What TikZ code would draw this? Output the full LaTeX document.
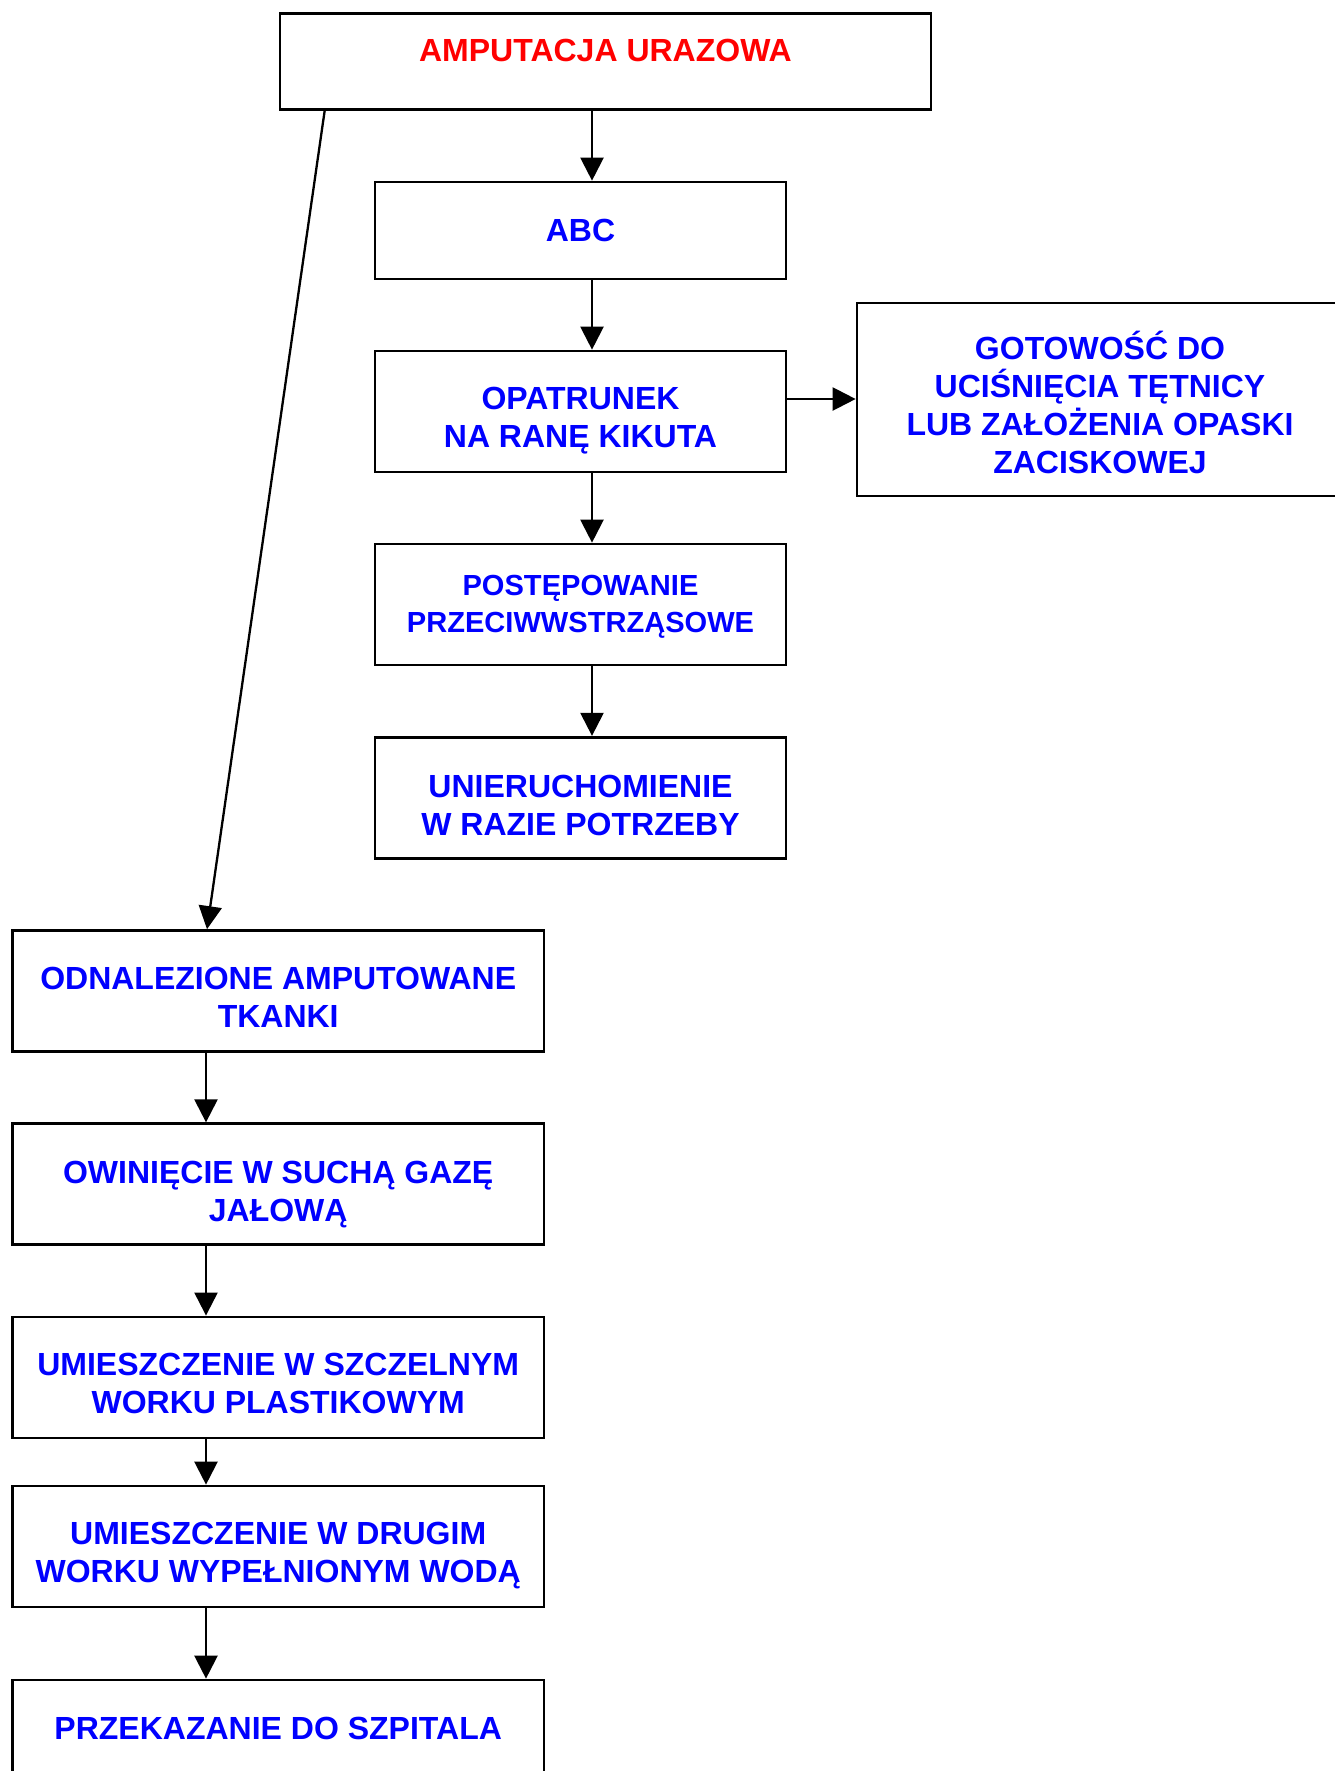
\documentclass[tikz,border=0pt]{standalone}
\usepackage{fontspec}
\setmainfont{Liberation Sans}
\usetikzlibrary{arrows.meta}
\newdimen\pxu \pxu=0.75pt
\definecolor{tblue}{RGB}{0,0,255}
\definecolor{tred}{RGB}{255,0,0}
\begin{document}
\begin{tikzpicture}[x=0.75pt, y=-0.75pt,
  box/.style={draw=black, line width=2.025pt, inner sep=0pt, minimum height=90.75pt},
  mainbox/.style={box, minimum width=308.25pt},
  leftbox/.style={box, minimum width=398.7pt},
  txt/.style={inner sep=0pt, align=center, text=tblue, font=\fontsize{24}{28.5}\selectfont\bfseries},
  smalltxt/.style={txt, font=\fontsize{21.8}{27.5}\selectfont\bfseries},
  arr/.style={line width=1.725pt, -{Triangle[length=17.25pt, width=17.25pt]}}
]
\useasboundingbox (0,0) rectangle (1335,1771);
\clip (0,0) rectangle (1335,1771);

% main column
\node[box, minimum width=488.25pt, minimum height=72pt,
  label={[txt, text=tred, yshift=8pt]center:AMPUTACJA URAZOWA}] (top) at (605.5,61.5) {};
\node[mainbox, minimum height=72.75pt,
  label={[txt]center:ABC}] (abc) at (580.5,230.5) {};
\node[mainbox,
  label={[txt, yshift=-7.1pt]center:{OPATRUNEK\\NA RANĘ KIKUTA}}] (opat) at (580.5,411.5) {};
\node[box, minimum width=364.5pt, minimum height=144.75pt,
  label={[txt, yshift=-2.25pt]center:{GOTOWOŚĆ DO\\UCIŚNIĘCIA TĘTNICY\\LUB ZAŁOŻENIA OPASKI\\ZACISKOWEJ}}] (goto) at (1100,399.5) {};
\node[mainbox,
  label={[smalltxt, yshift=-1.9pt]center:{POSTĘPOWANIE\\PRZECIWWSTRZĄSOWE}}] (post) at (580.5,604.5) {};
\node[mainbox,
  label={[txt, yshift=-5.5pt]center:{UNIERUCHOMIENIE\\W RAZIE POTRZEBY}}] (unie) at (580.5,797.7) {};

% left column
\node[leftbox,
  label={[txt, yshift=-5pt]center:{ODNALEZIONE AMPUTOWANE\\TKANKI}}] (odn) at (278.2,991) {};
\node[leftbox,
  label={[txt, yshift=-8pt]center:{OWINIĘCIE W SUCHĄ GAZĘ\\JAŁOWĄ}}] (owi) at (278.2,1184.2) {};
\node[leftbox,
  label={[txt, yshift=-4.5pt]center:{UMIESZCZENIE W SZCZELNYM\\WORKU PLASTIKOWYM}}] (um1) at (278.2,1377.4) {};
\node[leftbox,
  label={[txt, yshift=-6.9pt]center:{UMIESZCZENIE W DRUGIM\\WORKU WYPEŁNIONYM WODĄ}}] (um2) at (278.2,1546.5) {};
\node[leftbox,
  label={[txt, yshift=9.4pt]center:PRZEKAZANIE DO SZPITALA}] (prz) at (278.2,1740.5) {};

% guide coordinates
\coordinate (mx) at (592,0);
\coordinate (lx) at (206,0);
\coordinate (hy) at (700,399);

% connectors
\draw[arr] (top.south -| mx) -- (abc.north -| mx);
\draw[arr] (abc.south -| mx) -- (opat.north -| mx);
\draw[arr] (opat.south -| mx) -- (post.north -| mx);
\draw[arr] (post.south -| mx) -- (unie.north -| mx);
\draw[arr] (opat.east |- hy) -- (goto.west |- hy);
\draw[arr] ([xshift=34.5pt]top.south west) -- ([xshift=-53.4pt]odn.north);
\draw[arr] (odn.south -| lx) -- (owi.north -| lx);
\draw[arr] (owi.south -| lx) -- (um1.north -| lx);
\draw[arr] (um1.south -| lx) -- (um2.north -| lx);
\draw[arr] (um2.south -| lx) -- (prz.north -| lx);
\end{tikzpicture}
\end{document}
